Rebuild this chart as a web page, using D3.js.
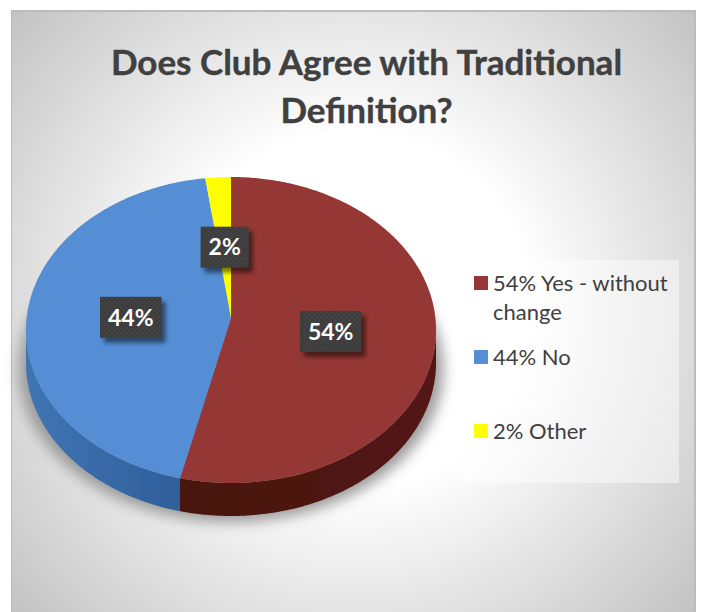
<!DOCTYPE html>
<html>
<head>
<meta charset="utf-8">
<script src="https://cdn.jsdelivr.net/npm/d3@7"></script>
<style>
  html, body { margin: 0; padding: 0; background: #fff; }
  svg { display: block; }
  text { font-family: Lato, "Open Sans", sans-serif; }
</style>
</head>
<body>
<div class="graph"></div>
<script>
// Chart data
const chartTitle = ["Does Club Agree with Traditional", "Definition?"];
const categories = ["Yes - without change", "No", "Other"];
const values = [54, 44, 2];
const colors = ["#953735", "#558ed5", "#ffff00"];
const wallColors = [["#481310", "#541813"], ["#2f5f9b", "#4075b4"], ["#b3b300", "#b3b300"]];
const legendLines = [["54% Yes - without", "change"], ["44% No"], ["2% Other"]];

let width = 702;
let height = 612;

// Pie geometry (the ellipse is a tilted circle, apex sits above its centre)
let cx = 231, cy = 330, rx = 205, ry = 153, depth = 33;
let apexY = 318, labelY = 322;

let svg = d3.select(".graph").append("svg")
  .attr("width", width)
  .attr("height", height);

let defs = svg.append("defs");

// Background gradient
let bg = defs.append("radialGradient")
  .attr("id", "bg")
  .attr("gradientUnits", "userSpaceOnUse")
  .attr("cx", 353).attr("cy", 311).attr("r", 455);
bg.append("stop").attr("offset", "39%").attr("stop-color", "#ffffff");
bg.append("stop").attr("offset", "100%").attr("stop-color", "#c3c3c3");

// Blur for the shadow under the pie
defs.append("filter").attr("id", "blur")
  .attr("x", "-20%").attr("y", "-20%").attr("width", "140%").attr("height", "140%")
  .append("feGaussianBlur").attr("stdDeviation", 7);

// The reference is a soft picture, keep the pie edges soft too
defs.append("filter").attr("id", "soft")
  .append("feGaussianBlur").attr("stdDeviation", 0.6);

// Shadow for the data labels
defs.append("filter").attr("id", "labelBlur")
  .attr("x", "-30%").attr("y", "-30%").attr("width", "160%").attr("height", "160%")
  .append("feGaussianBlur").attr("stdDeviation", 2);

// Dotted texture of the data labels
let dots = defs.append("pattern").attr("id", "dots")
  .attr("patternUnits", "userSpaceOnUse")
  .attr("width", 5).attr("height", 5);
dots.append("rect").attr("width", 5).attr("height", 5).attr("fill", "#3c3c3c");
dots.append("circle").attr("cx", 1.2).attr("cy", 1.2).attr("r", 0.9).attr("fill", "#4c4c4c");
dots.append("circle").attr("cx", 3.7).attr("cy", 3.7).attr("r", 0.9).attr("fill", "#4c4c4c");

// Wall gradients, darker towards the front
wallColors.forEach((c, i) => {
  let g = defs.append("linearGradient").attr("id", "wall" + i);
  g.append("stop").attr("offset", "0%").attr("stop-color", i === 1 ? c[1] : c[0]);
  g.append("stop").attr("offset", "100%").attr("stop-color", i === 1 ? c[0] : c[1]);
});

// Panel
svg.append("rect")
  .attr("x", 11).attr("y", 10)
  .attr("width", 685).attr("height", 602)
  .attr("fill", "#bcbcbc");
svg.append("rect")
  .attr("x", 12).attr("y", 12)
  .attr("width", 682).attr("height", 600)
  .attr("fill", "url(#bg)");

// Title
svg.append("g").selectAll("text")
  .data(chartTitle)
  .join("text")
  .attr("x", 366.5)
  .attr("y", (d, i) => 75 + i * 48)
  .attr("text-anchor", "middle")
  .attr("font-size", 35)
  .attr("font-weight", 700)
  .attr("fill", "#404040")
  .attr("stroke", "#404040")
  .attr("stroke-width", 0.4)
  .text(d => d);

// Pie angles
let pie = d3.pie().sort(null);
let arcs = pie(values);

function px(a) { return cx + rx * Math.sin(a); }
function py(a) { return cy - ry * Math.cos(a); }

function arcPoints(a0, a1) {
  let n = Math.max(2, Math.ceil((a1 - a0) / 0.01));
  return d3.range(n + 1).map(i => {
    let a = a0 + (a1 - a0) * i / n;
    return [px(a), py(a)];
  });
}

let line = d3.line();

// Shadow
svg.append("path")
  .attr("d", () => {
    let ring = arcPoints(0, 2 * Math.PI).map(p => [cx + (p[0] - cx) * 1.035, p[1] + depth + 6]);
    return line(ring) + "Z";
  })
  .attr("fill", "#9a9a9a")
  .attr("filter", "url(#blur)");

let pieGroup = svg.append("g").attr("filter", "url(#soft)");

// Side wall, only the front half of the ellipse shows it
let wall = pieGroup.append("g");
arcs.forEach((d, i) => {
  let a0 = Math.max(d.startAngle, Math.PI / 2);
  let a1 = Math.min(d.endAngle, 3 * Math.PI / 2);
  if (a1 <= a0) return;
  let top = arcPoints(a0, a1);
  let bottom = top.map(p => [p[0], p[1] + depth]).reverse();
  wall.append("path")
    .attr("d", line(top.concat(bottom)) + "Z")
    .attr("fill", "url(#wall" + i + ")");
});

// Top face
pieGroup.append("g").selectAll("path")
  .data(arcs)
  .join("path")
  .attr("d", d => line([[cx, apexY]].concat(arcPoints(d.startAngle, d.endAngle))) + "Z")
  .attr("fill", (d, i) => colors[i]);

// Data labels
let labels = svg.append("g").selectAll("g")
  .data(arcs)
  .join("g")
  .attr("transform", d => {
    let mid = (d.startAngle + d.endAngle) / 2;
    return "translate(" + (cx + 0.49 * rx * Math.sin(mid)) + "," + (labelY - 0.49 * ry * Math.cos(mid)) + ")";
  });

labels.append("text")
  .attr("text-anchor", "middle")
  .attr("dy", "0.36em")
  .attr("font-size", 23)
  .attr("font-weight", 700)
  .attr("fill", "#ffffff")
  .text(d => d.value + "%");

labels.each(function() {
  let g = d3.select(this);
  let box = g.select("text").node().getBBox();
  let w = box.width + 16, h = 41;
  g.insert("rect", "text")
    .attr("x", -w / 2 + 4).attr("y", -h / 2 + 5)
    .attr("width", w).attr("height", h)
    .attr("fill", "#000000").attr("opacity", 0.5)
    .attr("filter", "url(#labelBlur)");
  g.insert("rect", "text")
    .attr("x", -w / 2).attr("y", -h / 2)
    .attr("width", w).attr("height", h)
    .attr("fill", "url(#dots)");
});

// Legend
svg.append("rect")
  .attr("x", 461).attr("y", 260)
  .attr("width", 218).attr("height", 223)
  .attr("fill", "#ffffff").attr("opacity", 0.45);

let legendY = d3.scalePoint()
  .domain(categories)
  .range([283, 431]);

let legend = svg.append("g").selectAll("g")
  .data(categories)
  .join("g")
  .attr("transform", d => "translate(474," + legendY(d) + ")");

legend.append("rect")
  .attr("y", -7)
  .attr("width", 14).attr("height", 14)
  .attr("fill", (d, i) => colors[i]);

legend.selectAll("text")
  .data((d, i) => legendLines[i])
  .join("text")
  .attr("x", 19)
  .attr("y", (d, i) => i * 29)
  .attr("dy", "0.36em")
  .attr("font-size", 22)
  .attr("fill", "#404040")
  .text(d => d);
</script>
</body>
</html>
